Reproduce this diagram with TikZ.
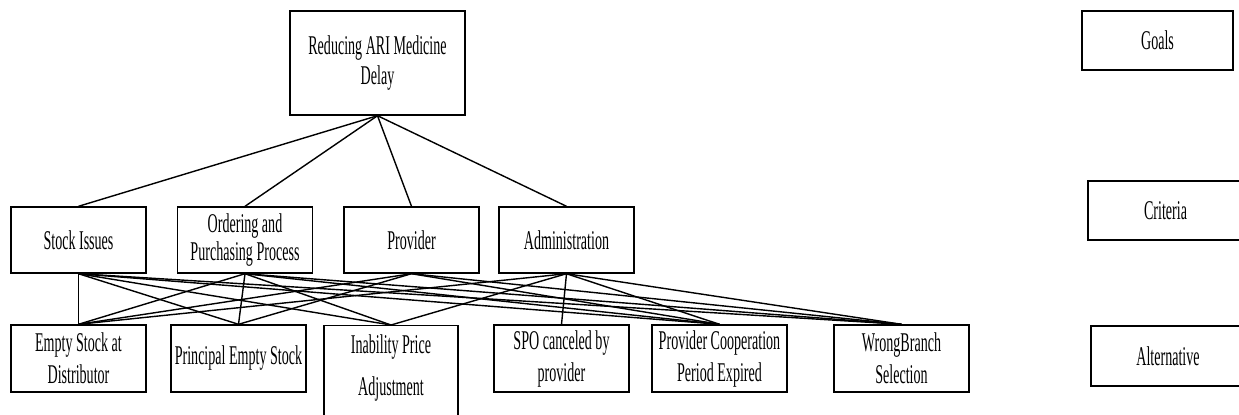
\documentclass[tikz,border=0pt]{standalone}
\usepackage{fontspec}
\setmainfont{Liberation Serif}[FakeStretch=0.52]
\usetikzlibrary{positioning}

\begin{document}
\begin{tikzpicture}[
    line width=0.8pt,
    box/.style={rectangle, draw=black, inner sep=0pt, align=center},
    goalbox/.style={box, minimum width=3.5cm, minimum height=2.08cm, font=\fontsize{15.4}{17}\selectfont},
    critbox/.style={box, minimum width=2.7cm, minimum height=1.32cm, font=\fontsize{15.4}{15.9}\selectfont},
    altbox/.style={box, minimum width=2.7cm, minimum height=1.34cm, font=\fontsize{15.4}{18.2}\selectfont},
    levelbox/.style={box, minimum height=1.18cm, font=\fontsize{15.4}{15.9}\selectfont},
    link/.style={line width=0.8pt}
]
    \useasboundingbox (0,0) rectangle (24.78,-8.28);

    \node[goalbox] (goal) at (7.55,-1.26) {Reducing ARI Medicine\\Delay};

    \node[critbox] (stock) at (1.57,-4.8) {Stock Issues};
    \node[critbox] (order) at (4.9,-4.8) {Ordering and\\Purchasing Process};
    \node[critbox] (prov) at (8.23,-4.8) {Provider};
    \node[critbox] (admin) at (11.33,-4.8) {Administration};

    \node[altbox] (emptydist) at (1.57,-7.17) {Empty Stock at\\Distributor};
    \node[altbox] (principal) at (4.77,-7.17) {Principal Empty Stock};
    \node[altbox, minimum width=2.68cm, minimum height=0pt, anchor=north,
          text height=1.4cm, text depth=0.9cm] (inability) at (7.82,-6.5)
          {Inability Price\\[5.7pt]Adjustment};
    \node[altbox] (spo) at (11.23,-7.17) {SPO canceled by\\provider};
    \node[altbox] (coop) at (14.39,-7.17) {Provider Cooperation\\Period Expired};
    \node[altbox] (branch) at (18.03,-7.17) {WrongBranch\\Selection};

    \node[levelbox, minimum width=3.02cm] (goals) at (23.15,-0.81) {Goals};
    \node[levelbox, minimum width=3.1cm] (criteria) at (23.31,-4.21) {Criteria};
    \node[levelbox, minimum width=3.08cm, minimum height=1.2cm] (alternative) at (23.36,-7.12) {Alternative};

    \draw[link] (goal.south) -- (stock.north);
    \draw[link] (goal.south) -- (order.north);
    \draw[link] (goal.south) -- (prov.north);
    \draw[link] (goal.south) -- (admin.north);

    \draw[link] (stock.south) -- (emptydist.north);
    \draw[link] (stock.south) -- (principal.north);
    \draw[link] (stock.south) -- (inability.north);
    \draw[link] (stock.south) -- (coop.north);
    \draw[link] (stock.south) -- (branch.north);

    \draw[link] (order.south) -- (emptydist.north);
    \draw[link] (order.south) -- (principal.north);
    \draw[link] (order.south) -- (inability.north);
    \draw[link] (order.south) -- (coop.north);
    \draw[link] (order.south) -- (branch.north);

    \draw[link] (prov.south) -- (emptydist.north);
    \draw[link] (prov.south) -- (principal.north);
    \draw[link] (prov.south) -- (coop.north);
    \draw[link] (prov.south) -- (branch.north);

    \draw[link] (admin.south) -- (emptydist.north);
    \draw[link] (admin.south) -- (inability.north);
    \draw[link] (admin.south) -- (spo.north);
    \draw[link] (admin.south) -- (coop.north);
    \draw[link] (admin.south) -- (branch.north);
\end{tikzpicture}
\end{document}
